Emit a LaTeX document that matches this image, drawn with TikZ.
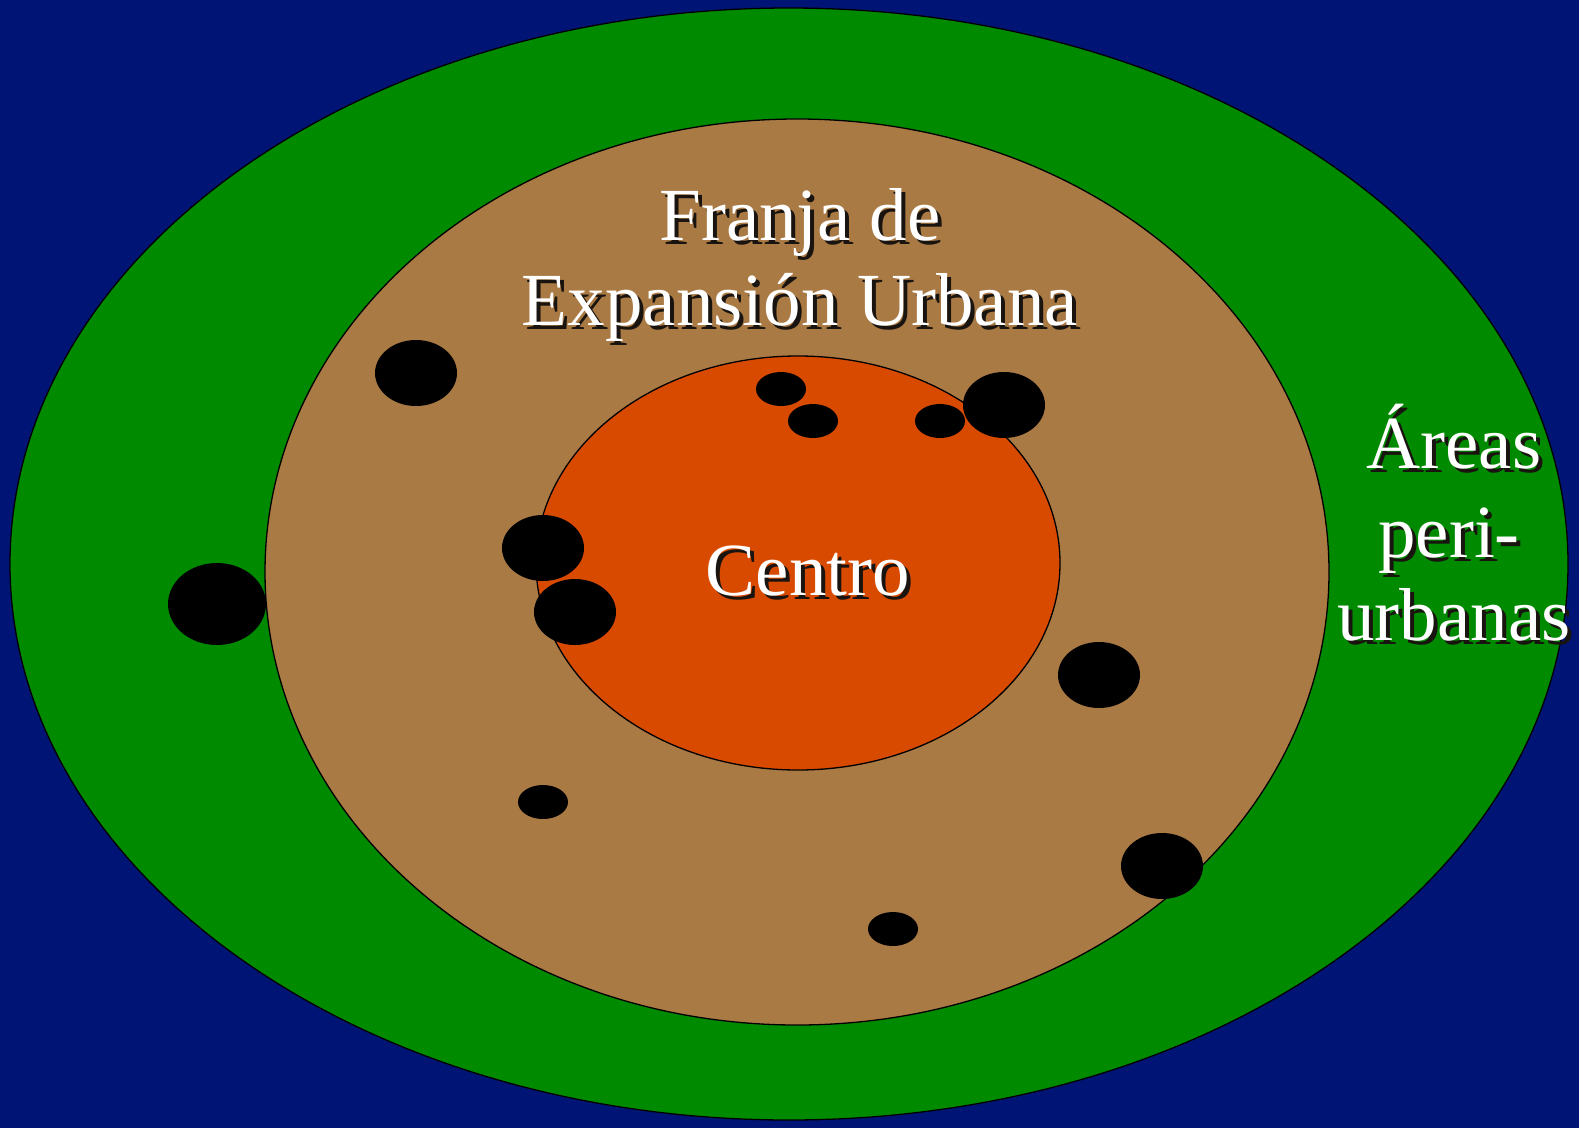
\documentclass[tikz,border=0pt]{standalone}
\usepackage{fontspec}
\setmainfont{Liberation Serif}
\definecolor{bgnavy}{RGB}{0,20,118}
\definecolor{pgreen}{RGB}{0,138,0}
\definecolor{fbrown}{RGB}{170,122,69}
\definecolor{corange}{RGB}{216,74,0}
\definecolor{shadowc}{RGB}{25,20,15}
\newcommand\shtxt[1]{\makebox[0pt][l]{\kern4bp\raisebox{-4bp}{\textcolor{shadowc}{#1}}}#1}
\begin{document}
\begin{tikzpicture}[x=1bp,y=-1bp,
  zone/.style={draw=black,line width=1.3bp},
  blob/.style={fill=black},
  lbl/.style={text=white,font=\fontsize{75bp}{83bp}\selectfont,anchor=base,inner sep=0pt}]
\fill[bgnavy] (0,0) rectangle (1579,1128);
\useasboundingbox (0,0) rectangle (1579,1128);
% zones
\draw[zone,fill=pgreen] (789,564) ellipse [x radius=779,y radius=556];
\draw[zone,fill=fbrown] (797,572) ellipse [x radius=532,y radius=453];
\draw[zone,fill=corange] (798,563) ellipse [x radius=262,y radius=207];
% settlements
\fill[blob] (416,373) ellipse [x radius=41,y radius=33];
\fill[blob] (217,604) ellipse [x radius=49,y radius=41];
\fill[blob] (781,389) ellipse [x radius=25,y radius=17];
\fill[blob] (813,421) ellipse [x radius=25,y radius=17];
\fill[blob] (940,421) ellipse [x radius=25,y radius=17];
\fill[blob] (1004,405) ellipse [x radius=41,y radius=33];
\fill[blob] (543,548) ellipse [x radius=41,y radius=33];
\fill[blob] (575,612) ellipse [x radius=41,y radius=33];
\fill[blob] (1099,675) ellipse [x radius=41,y radius=33];
\fill[blob] (543,802) ellipse [x radius=25,y radius=17];
\fill[blob] (1162,866) ellipse [x radius=41,y radius=33];
\fill[blob] (893,929) ellipse [x radius=25,y radius=17];
% labels with shadow
\node[lbl] (f1) at (800,240) {\shtxt{Franja de}};
\node[lbl] (f2) at (800,325) {\shtxt{Expansión Urbana}};
\node[lbl] (c) at (808,595) {\shtxt{Centro}};
\node[lbl] (a1) at (1454,468) {\shtxt{Áreas}};
\node[lbl] (a2) at (1449,557) {\shtxt{peri-}};
\node[lbl] (a3) at (1454,640) {\shtxt{urbanas}};
\end{tikzpicture}
\end{document}
